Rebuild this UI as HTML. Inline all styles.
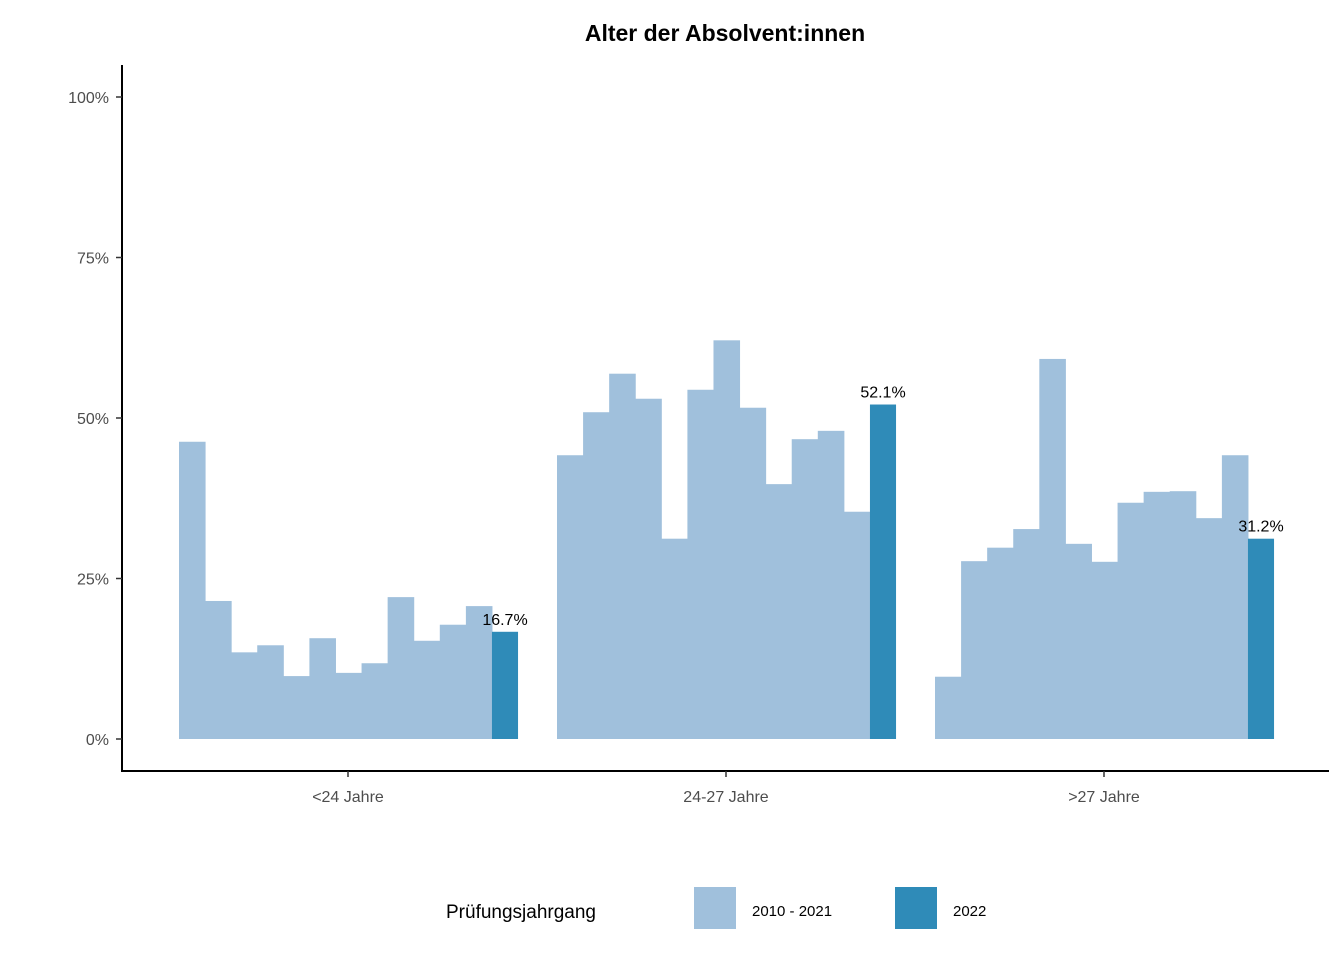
<!DOCTYPE html>
<html><head><meta charset="utf-8"><style>
body{margin:0;background:#fff;font-family:"Liberation Sans",Arial,sans-serif}
</style></head><body>
<svg width="1344" height="960" xmlns="http://www.w3.org/2000/svg" font-family="Liberation Sans, Arial, sans-serif">
<text x="725" y="41" text-anchor="middle" font-size="23" font-weight="bold">Alter der Absolvent:innen</text>
<g id="bars"></g>
<g id="axes"></g>
<g>
<text x="446" y="918" font-size="19" fill="#000">Prüfungsjahrgang</text>
<rect x="694" y="887" width="42" height="42" fill="#a0c0dc"/>
<text x="752" y="916" font-size="15">2010 - 2021</text>
<rect x="895" y="887" width="42" height="42" fill="#2f8bb8"/>
<text x="953" y="916" font-size="15">2022</text>
</g>
</svg>
<script>
const categories=["<24 Jahre","24-27 Jahre",">27 Jahre"];
const hist0=[46.3,21.5,13.5,14.6,9.8,15.7,10.3,11.8,22.1,15.3,17.8,20.7];
const hist1=[44.2,50.9,56.9,53.0,31.2,54.4,62.1,51.6,39.7,46.7,48.0,35.4];
const hist2=[9.7,27.7,29.8,32.7,59.2,30.4,27.6,36.8,38.5,38.6,34.4,44.2];
const current=[16.7,52.1,31.2];
const yTicks=[0,25,50,75,100];
const NS="http://www.w3.org/2000/svg";
const y=v=>739-v*6.42;
const xc=i=>348+i*378;
const bw=26.08;
const bars=document.getElementById('bars'),axes=document.getElementById('axes');
function mk(tag,at,parent){const e=document.createElementNS(NS,tag);for(const k in at)e.setAttribute(k,at[k]);parent.appendChild(e);return e;}
[hist0,hist1,hist2].forEach((h,g)=>{
  const x0=xc(g)-169;
  h.forEach((v,j)=>{
    const r=mk('rect',{x:x0+j*bw,y:y(v),width:bw+0.5,height:y(0)-y(v),fill:'#a0c0dc'},bars);
    
    
  });
  const v=current[g];
  const r=mk('rect',{x:x0+12*bw,y:y(v),width:bw,height:y(0)-y(v),fill:'#2f8bb8'},bars);
  
  
  const t=mk('text',{x:x0+12.5*bw,y:y(v)-7,'text-anchor':'middle','font-size':'16'},bars);
  t.textContent=v.toFixed(1)+'%';
  
  
});
mk('line',{x1:122,y1:65,x2:122,y2:771,stroke:'#000','stroke-width':2},axes);
mk('line',{x1:121,y1:771,x2:1329,y2:771,stroke:'#000','stroke-width':2},axes);
yTicks.forEach(v=>{
  mk('line',{x1:116,y1:y(v),x2:122,y2:y(v),stroke:'#333','stroke-width':1.5},axes);
  const t=mk('text',{x:109,y:y(v)+6,'text-anchor':'end','font-size':'16',fill:'#4d4d4d'},axes);
  t.textContent=v+'%';
  
  
});
categories.forEach((c,i)=>{
  mk('line',{x1:xc(i),y1:771,x2:xc(i),y2:777,stroke:'#333','stroke-width':1.5},axes);
  const t=mk('text',{x:xc(i),y:802,'text-anchor':'middle','font-size':'16',fill:'#4d4d4d'},axes);
  t.textContent=c;
  
  
});
</script>
</body></html>
